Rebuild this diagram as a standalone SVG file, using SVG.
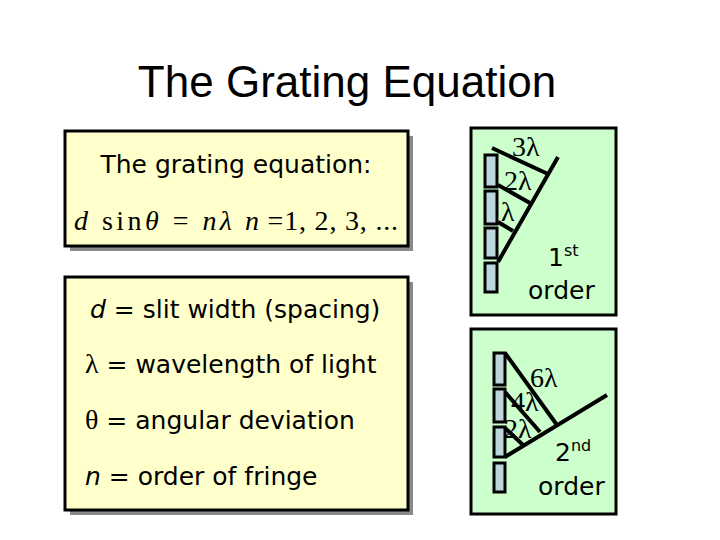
<svg xmlns="http://www.w3.org/2000/svg" width="720" height="540" viewBox="0 0 720 540">
<style>
.box{stroke:#000;stroke-width:3}
.sh{fill:#8a8a8a}
.t{font-family:"DejaVu Sans",Verdana,sans-serif;font-size:25px;fill:#000}
.m{font-family:"Liberation Serif",serif;font-size:28px;fill:#000}
.bar{fill:#bcd6dc;stroke:#000;stroke-width:3}
.ln{stroke:#000;stroke-width:4;fill:none}
</style>
<rect width="720" height="540" fill="#fff"/>
<text x="347" y="97" text-anchor="middle" font-family="Liberation Sans,Arial,sans-serif" font-size="44">The Grating Equation</text>
<g id="eqbox">
<rect class="sh" x="70" y="136" width="343" height="115"/>
<rect class="box" x="65" y="131" width="343" height="115" fill="#ffffcc"/>
<text class="t" x="236" y="173" text-anchor="middle">The grating equation:</text>
<text class="m" x="74" y="230" font-size="36" textLength="158" lengthAdjust="spacing"><tspan font-style="italic">d</tspan> sin<tspan font-style="italic">θ</tspan> = <tspan font-style="italic">nλ</tspan></text>
<text class="m" x="245" y="230" font-size="36" textLength="153" lengthAdjust="spacing"><tspan font-style="italic">n</tspan> =1, 2, 3, ...</text>
</g>
<g id="defbox">
<rect class="sh" x="70" y="282" width="343" height="233"/>
<rect class="box" x="65" y="277" width="343" height="233" fill="#ffffcc"/>
<text class="t" x="90" y="318"><tspan font-style="italic">d</tspan> = slit width (spacing)</text>
<text class="t" x="85" y="373"><tspan class="m">λ</tspan> = wavelength of light</text>
<text class="t" x="85" y="429"><tspan class="m">θ</tspan> = angular deviation</text>
<text class="t" x="85" y="485"><tspan font-style="italic">n</tspan> = order of fringe</text>
</g>
<g id="first">
<rect class="box" x="471" y="128" width="145" height="187" fill="#ccffcc"/>
<rect class="bar" x="485" y="155" width="12" height="32"/>
<rect class="bar" x="485" y="191" width="12" height="33"/>
<rect class="bar" x="485" y="228" width="12" height="30"/>
<rect class="bar" x="485" y="263" width="12" height="29"/>
<path class="ln" d="M498 262 L558 157 M492 148 L548 174 M498 185 L530 203 M498 222 L513 231"/>
<text class="m" x="512" y="156">3λ</text>
<text class="m" x="504" y="190">2λ</text>
<text class="m" x="501" y="221">λ</text>
<text class="t" x="548" y="266">1<tspan font-size="16" dy="-10">st</tspan></text>
<text class="t" x="528" y="299">order</text>
</g>
<g id="second">
<rect class="box" x="471" y="329" width="145" height="185" fill="#ccffcc"/>
<rect class="bar" x="494" y="353" width="11" height="32"/>
<rect class="bar" x="494" y="389" width="11" height="33"/>
<rect class="bar" x="494" y="427" width="11" height="30"/>
<rect class="bar" x="494" y="463" width="11" height="29"/>
<path class="ln" d="M505 457 L607 395 M505 353 L557 425 M505 392 L540 432 M505 428 L523 445"/>
<text class="m" x="530" y="387">6λ</text>
<text class="m" x="511" y="411" font-size="25">4λ</text>
<text class="m" x="504" y="438" font-size="25">2λ</text>
<text class="t" x="555" y="461">2<tspan font-size="16" dy="-10">nd</tspan></text>
<text class="t" x="538" y="495">order</text>
</g>
</svg>
